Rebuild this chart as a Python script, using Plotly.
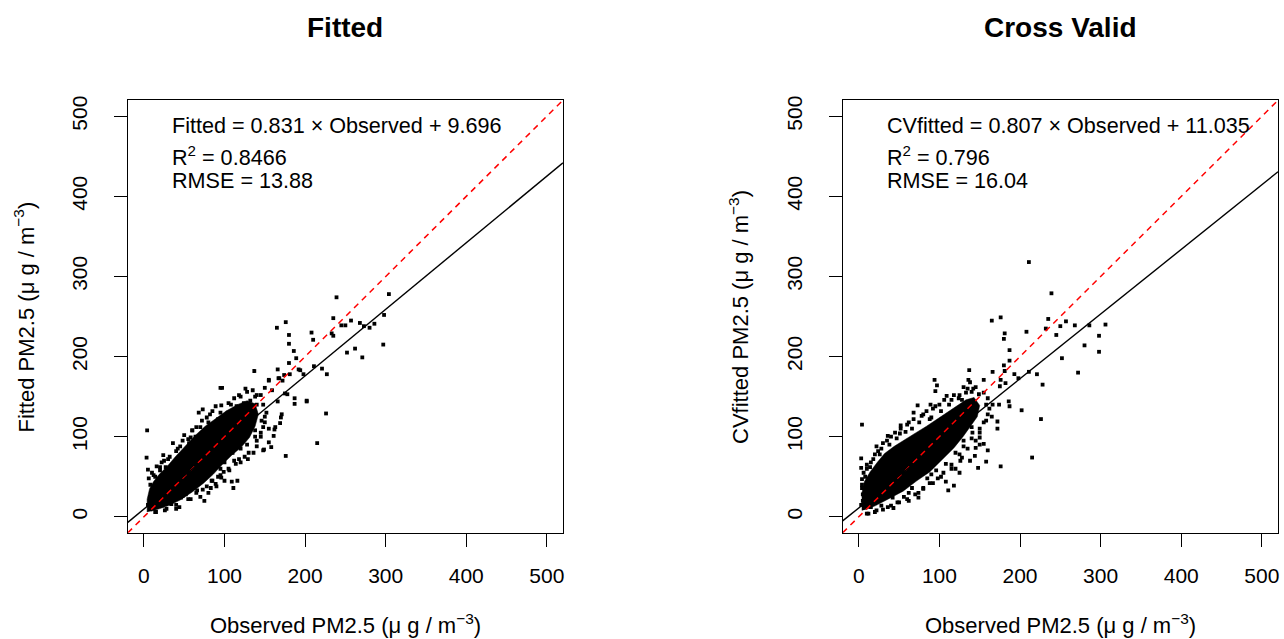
import plotly.graph_objects as go

# ---------------- data ----------------
axis_range = [-20, 520]
tick_vals = [0, 100, 200, 300, 400, 500]
tick_text = ["0", "100", "200", "300", "400", "500"]

panel_titles = ["Fitted", "Cross Valid"]
y_titles = ["Fitted PM2.5 (\u03bc g / m<sup>\u22123</sup>)", "CVfitted PM2.5 (\u03bc g / m<sup>\u22123</sup>)"]
x_title = "Observed PM2.5 (\u03bc g / m<sup>\u22123</sup>)"

slopes = [0.831, 0.807]
intercepts = [9.696, 11.035]
eq_lines = [
    ["Fitted = 0.831 \u00d7 Observed + 9.696", "R<sup>2</sup> = 0.8466", "RMSE = 13.88"],
    ["CVfitted = 0.807 \u00d7 Observed + 11.035", "R<sup>2</sup> = 0.796", "RMSE = 16.04"],
]

# dense (solid) part of the point cloud, outline in data units
fit_core_obs = [4, 4, 7, 12, 19, 29, 39, 51, 63, 76, 89, 102, 116, 128, 138, 142, 138, 131, 121, 109, 97, 86, 74, 60, 45, 31, 19, 9]
fit_core_pred = [6, 22, 35, 44, 53, 63, 75, 88, 101, 113, 123, 132, 140, 145, 141, 128, 113, 99, 87, 77, 65, 53, 42, 31, 21, 14, 10, 7]

cv_core_obs = [4, 4, 7, 14, 23, 32, 44, 56, 71, 84, 97, 109, 121, 133, 143, 150, 147, 139, 130, 118, 103, 88, 72, 55, 38, 21, 9]
cv_core_pred = [8, 30, 44, 56, 68, 79, 88, 96, 105, 113, 122, 130, 138, 146, 149, 139, 125, 113, 101, 86, 71, 56, 45, 32, 23, 14, 9]

# individual (scattered) points
fit_obs = [4, 3.3, 5, 6, 15.8, 24, 36, 35, 50, 58, 68, 73, 89, 96, 95, 97, 112, 135, 137, 155,
           166, 165, 176, 180, 180, 186, 189, 180, 167, 172, 181, 194, 208, 210, 202, 187, 187, 178, 166, 170,
           169, 162, 161, 155, 158, 149, 176, 129, 114, 99, 96, 109, 116, 111, 89, 83, 73, 44, 75, 150,
           159, 175, 226, 215, 163, 171, 148, 239, 235, 245, 250, 257, 268, 273, 280, 286, 233, 235, 192, 198,
           211, 221, 227, 252, 271, 174, 168, 155, 202, 304, 298, 297, 262,
           8, 12, 20, 25, 30, 42, 55, 65, 78, 85, 105, 120, 128, 140, 148, 152, 150, 145, 140, 130,
           118, 105, 95, 85, 78, 65, 55, 40, 28, 15, 10, 5, 146, 138, 122, 133, 100, 90, 60, 48,
           10, 14, 20, 22, 27, 32, 40, 45, 48, 56, 60, 64, 70, 72, 80, 82, 92, 95, 104, 108,
           115, 118, 124, 126, 132, 138, 140, 145, 150, 148, 145, 140, 136, 128, 125, 120, 112, 106, 100, 92,
           90, 84, 80, 70, 66, 58, 52, 46, 40, 34, 26, 22, 14, 8, 120, 132, 138, 155, 110, 95]
fit_pred = [108, 74, 59, 48, 63, 77, 92, 59, 102, 99, 130, 134, 138, 139, 161, 161, 148, 158, 182, 171,
            184, 236, 243, 227, 216, 207, 198, 192, 173, 170, 178, 183, 230, 221, 145, 148, 141, 153, 144, 124,
            117, 109, 101, 93, 87, 84, 76, 72, 66, 56, 49, 44, 45, 36, 41, 36, 34, 12, 20, 161,
            158, 154, 129, 92, 112, 128, 83, 274, 248, 239, 239, 245, 242, 238, 236, 241, 229, 226, 184, 178,
            188, 185, 178, 205, 199, 177, 173, 170, 144, 278, 252, 215, 210,
            40, 52, 62, 70, 72, 85, 97, 112, 124, 132, 142, 150, 156, 152, 140, 130, 118, 105, 95, 80,
            72, 60, 52, 45, 38, 30, 22, 15, 10, 6, 12, 15, 120, 108, 135, 125, 68, 118, 108, 26,
            55, 50, 58, 68, 62, 75, 82, 88, 95, 92, 108, 100, 112, 120, 118, 128, 122, 130, 130, 140,
            138, 152, 142, 160, 145, 150, 140, 152, 125, 112, 100, 88, 80, 90, 75, 68, 70, 58, 45, 50,
            38, 45, 30, 25, 33, 22, 28, 24, 10, 16, 8, 14, 6, 10, 85, 110, 100, 110, 80, 60]

cv_obs = [211, 239, 165, 176, 181, 180, 208, 235, 232, 245, 250, 257, 268, 286, 306, 298, 298, 280, 252, 272,
          187, 187, 181, 166, 137, 176, 155, 193, 198, 211, 221, 228, 202, 226, 215, 176, 148, 158, 160, 155,
          94, 97, 95, 73, 89, 68, 51, 4, 3, 3, 4, 24, 36, 43, 74, 111, 118, 108, 90, 128,
          144, 145, 172, 172, 166, 150, 141, 109, 124, 133, 142, 149, 88, 186, 187, 180, 182, 175, 136, 174,
          5, 4, 6, 10, 15, 20, 28, 35, 45, 52, 60, 68, 80, 92, 100, 115, 125, 135, 145, 155,
          160, 162, 158, 150, 140, 130, 125, 115, 105, 98, 88, 80, 70, 60, 50, 40, 30, 20, 12, 120, 62, 138,
          3, 5, 4, 8, 10, 14, 18, 22, 26, 30, 38, 40, 47, 52, 58, 62, 66, 75, 78, 84,
          90, 95, 102, 106, 112, 118, 128, 130, 140, 158, 160, 155, 150, 145, 140, 135, 130, 126, 120, 115,
          108, 102, 96, 92, 85, 80, 74, 66, 62, 56, 48, 42, 36, 28, 22, 15, 10, 165, 150, 138, 125]
cv_pred = [318, 279, 245, 249, 229, 222, 231, 247, 235, 227, 238, 244, 239, 239, 240, 226, 206, 214, 198, 180,
           208, 195, 182, 181, 183, 171, 171, 178, 173, 181, 178, 165, 133, 122, 74, 63, 61, 69, 83, 91,
           171, 164, 157, 139, 140, 130, 104, 115, 73, 61, 47, 82, 101, 11, 30, 33, 39, 44, 53, 74,
           76, 86, 110, 119, 140, 99, 105, 151, 148, 155, 160, 153, 122, 144, 138, 189, 167, 163, 171, 140,
           20, 40, 55, 60, 68, 78, 85, 95, 105, 110, 115, 122, 128, 135, 140, 146, 152, 160, 162, 155,
           148, 135, 120, 110, 98, 88, 78, 65, 55, 48, 42, 35, 28, 22, 18, 14, 9, 6, 4, 60, 30, 168,
           15, 28, 36, 50, 65, 62, 72, 88, 78, 92, 90, 100, 98, 114, 106, 118, 110, 118, 126, 132,
           124, 138, 132, 146, 140, 152, 146, 162, 156, 140, 128, 118, 105, 95, 112, 85, 95, 70, 80, 60,
           66, 50, 58, 42, 48, 36, 24, 36, 20, 25, 18, 24, 12, 14, 8, 12, 4, 125, 90, 70, 55]

# ---------------- layout geometry ----------------
W, H = 1284, 639
FONT = "Liberation Sans, Arial, sans-serif"
x_domains = [[127.9 / W, 563.4 / W], [843.3 / W, 1279.0 / W]]
y_domain = [1 - 532.0 / H, 1 - 96.0 / H]

panels = [
    (fit_core_obs, fit_core_pred, fit_obs, fit_pred),
    (cv_core_obs, cv_core_pred, cv_obs, cv_pred),
]

fig = go.Figure()
for i, (cx, cy, px, py) in enumerate(panels):
    xa = "x" if i == 0 else "x2"
    ya = "y" if i == 0 else "y2"
    fig.add_trace(go.Scatter(x=cx, y=cy, mode="lines", fill="toself", fillcolor="black",
                             line=dict(width=0.5, color="black"), xaxis=xa, yaxis=ya,
                             showlegend=False, hoverinfo="skip"))
    fig.add_trace(go.Scatter(x=px, y=py, mode="markers",
                             marker=dict(symbol="square", size=3.8, color="black", line=dict(width=0)),
                             xaxis=xa, yaxis=ya, showlegend=False))
    # 1:1 line
    fig.add_trace(go.Scatter(x=axis_range, y=axis_range, mode="lines",
                             line=dict(color="red", width=1.5, dash="6px,5px"),
                             xaxis=xa, yaxis=ya, showlegend=False))
    # regression line
    fig.add_trace(go.Scatter(x=axis_range, y=[slopes[i] * v + intercepts[i] for v in axis_range], mode="lines",
                             line=dict(color="black", width=1.4),
                             xaxis=xa, yaxis=ya, showlegend=False))

axis_common = dict(range=axis_range, tickvals=tick_vals, ticktext=tick_text, showgrid=False, zeroline=False,
                   showline=True, mirror=True, linecolor="black", linewidth=1.2,
                   ticks="outside", ticklen=13, tickwidth=1.2, tickcolor="black",
                   tickfont=dict(family=FONT, size=21, color="black"))

fig.update_layout(
    width=W, height=H, margin=dict(l=0, r=0, t=0, b=0),
    paper_bgcolor="white", plot_bgcolor="white", showlegend=False,
    xaxis=dict(domain=x_domains[0], anchor="y", ticklabelstandoff=11, **axis_common),
    yaxis=dict(domain=y_domain, anchor="x", tickangle=-90, ticklabelstandoff=18, **axis_common),
    xaxis2=dict(domain=x_domains[1], anchor="y2", ticklabelstandoff=11, **axis_common),
    yaxis2=dict(domain=y_domain, anchor="x2", tickangle=-90, ticklabelstandoff=18, **axis_common),
)

ann = []
for i in range(2):
    cxp = (x_domains[i][0] + x_domains[i][1]) / 2
    ann.append(dict(text="<b>" + panel_titles[i] + "</b>", x=cxp, y=1 - 23 / H, xref="paper", yref="paper",
                    showarrow=False, font=dict(family=FONT, size=28, color="black"), xanchor="center", yanchor="middle"))
    ann.append(dict(text=x_title, x=cxp, y=1 - 624 / H, xref="paper", yref="paper",
                    showarrow=False, font=dict(family=FONT, size=22, color="black"), xanchor="center", yanchor="middle"))
    ann.append(dict(text=y_titles[i], x=[24 / W, 739 / W][i], y=(y_domain[0] + y_domain[1]) / 2,
                    xref="paper", yref="paper", textangle=-90,
                    showarrow=False, font=dict(family=FONT, size=22, color="black"), xanchor="center", yanchor="middle"))
    ex = [170 / W, 885.5 / W][i]
    for j, yy in enumerate([121, 152, 177]):
        ann.append(dict(text=eq_lines[i][j], x=ex, y=1 - yy / H, xref="paper", yref="paper",
                        showarrow=False, font=dict(family=FONT, size=21.6, color="black"),
                        xanchor="left", yanchor="middle"))
fig.update_layout(annotations=ann)

fig.write_html("out.html", config={"displayModeBar": False},
               post_script="document.body.style.margin='0';document.body.style.overflow='hidden';")
